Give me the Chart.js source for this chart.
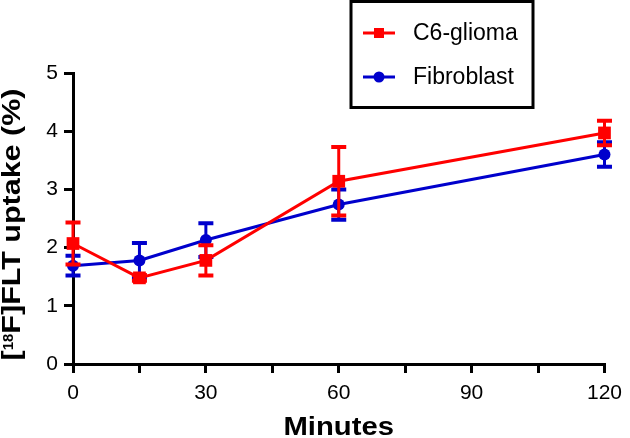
<!DOCTYPE html>
<html>
<head>
<meta charset="utf-8">
<script src="https://cdn.jsdelivr.net/npm/chart.js@4"></script>
<style>
  html, body { margin: 0; padding: 0; background: #fff; }
  #wrap { width: 630px; height: 438px; }
</style>
</head>
<body>
<div id="wrap"><canvas id="myChart" width="630" height="438"></canvas></div>
<script>
// values
const minutes = [0, 15, 30, 60, 120];
const gliomaMean = [2.07, 1.48, 1.78, 3.14, 3.97];
const gliomaErr = [0.36, 0.05, 0.26, 0.59, 0.21];
const fibroMean = [1.69, 1.78, 2.13, 2.74, 3.60];
const fibroErr = [0.17, 0.30, 0.29, 0.26, 0.21];
const xMinor = [0, 15, 30, 45, 60, 75, 90, 105, 120];
const xTicks = [0, 30, 60, 90, 120];
const yTicks = [0, 1, 2, 3, 4, 5];

const RED = '#ff0000';
const BLUE = '#0000cc';
const FONT = "'Liberation Sans', Arial, sans-serif";

function toPoints(means) {
    return minutes.map((m, i) => ({x: m, y: means[i]}));
}

// error bars, drawn just under each dataset's own line and markers
const errorBars = {
    id: 'errorBars',
    beforeDatasetDraw(chart, args) {
        const ds = chart.data.datasets[args.index];
        const errs = ds.errors;
        if (!errs) return;
        const ctx = chart.ctx;
        const xs = chart.scales.x, ys = chart.scales.y;
        ctx.save();
        ctx.strokeStyle = ds.borderColor;
        ds.data.forEach((p, i) => {
            const px = xs.getPixelForValue(p.x);
            const top = ys.getPixelForValue(p.y + errs[i]);
            const bot = ys.getPixelForValue(p.y - errs[i]);
            ctx.lineWidth = 3;
            ctx.beginPath();
            ctx.moveTo(px, top);
            ctx.lineTo(px, bot);
            ctx.stroke();
            ctx.lineWidth = 4;
            ctx.beginPath();
            ctx.moveTo(px - 7.5, top);
            ctx.lineTo(px + 7.5, top);
            ctx.moveTo(px - 7.5, bot);
            ctx.lineTo(px + 7.5, bot);
            ctx.stroke();
        });
        ctx.restore();
    }
};

// axis titles (the figure's bold face is wider than Arial, so stretch a bit)
const axisTitles = {
    id: 'axisTitles',
    afterDraw(chart) {
        const ctx = chart.ctx;
        const area = chart.chartArea;
        ctx.save();
        ctx.fillStyle = '#000';
        ctx.textBaseline = 'alphabetic';

        // x title
        ctx.font = 'bold 25px ' + FONT;
        ctx.textAlign = 'center';
        ctx.save();
        ctx.translate((area.left + area.right) / 2, 435);
        ctx.scale(1.17, 1);
        ctx.fillText('Minutes', 0, 0);
        ctx.restore();

        // y title with superscript 18
        const parts = [
            {t: '[', size: 25, sup: false},
            {t: '18', size: 15, sup: true},
            {t: 'F]FLT uptake (%)', size: 25, sup: false}
        ];
        const stretch = 1.22;
        let total = 0;
        parts.forEach(p => {
            ctx.font = 'bold ' + p.size + 'px ' + FONT;
            p.w = ctx.measureText(p.t).width * (p.sup ? 1 : stretch);
            total += p.w;
        });
        ctx.translate(20, 224.5);
        ctx.rotate(-Math.PI / 2);
        ctx.textAlign = 'left';
        let x = -total / 2;
        parts.forEach(p => {
            ctx.font = 'bold ' + p.size + 'px ' + FONT;
            ctx.save();
            ctx.translate(x, p.sup ? -7.5 : 0);
            if (!p.sup) ctx.scale(stretch, 1);
            ctx.fillText(p.t, 0, 0);
            ctx.restore();
            x += p.w;
        });
        ctx.restore();
    }
};

// boxed legend at the top
const boxLegend = {
    id: 'boxLegend',
    afterDraw(chart) {
        const ctx = chart.ctx;
        ctx.save();
        ctx.strokeStyle = '#000';
        ctx.lineWidth = 3;
        ctx.strokeRect(351, 1.5, 182, 106);
        const items = [
            {label: 'C6-glioma', color: RED, style: 'rect', y: 33},
            {label: 'Fibroblast', color: BLUE, style: 'circle', y: 77}
        ];
        items.forEach(it => {
            ctx.strokeStyle = it.color;
            ctx.fillStyle = it.color;
            ctx.lineWidth = 3;
            ctx.beginPath();
            ctx.moveTo(363, it.y);
            ctx.lineTo(395, it.y);
            ctx.stroke();
            if (it.style === 'rect') {
                ctx.fillRect(374, it.y - 5, 10, 10);
            } else {
                ctx.beginPath();
                ctx.arc(379, it.y, 5.5, 0, Math.PI * 2);
                ctx.fill();
            }
            ctx.fillStyle = '#000';
            ctx.font = '23px ' + FONT;
            ctx.textBaseline = 'middle';
            ctx.fillText(it.label, 413, it.y + 1);
        });
        ctx.restore();
    }
};

let ctx = document.getElementById('myChart');

let myChart = new Chart(ctx, {
    type: 'line',
    data: {
        datasets: [{
            label: 'C6-glioma',
            data: toPoints(gliomaMean),
            errors: gliomaErr,
            borderColor: RED,
            backgroundColor: RED,
            borderWidth: 3,
            pointStyle: 'rect',
            pointRadius: 9,
            pointBorderWidth: 0,
            clip: false
        }, {
            label: 'Fibroblast',
            data: toPoints(fibroMean),
            errors: fibroErr,
            borderColor: BLUE,
            backgroundColor: BLUE,
            borderWidth: 3,
            pointStyle: 'circle',
            pointRadius: 6,
            pointBorderWidth: 0,
            clip: false
        }]
    },
    options: {
        responsive: false,
        animation: false,
        layout: { padding: { top: 73, right: 18, left: 0, bottom: 0 } },
        plugins: {
            legend: { display: false },
            tooltip: { enabled: false }
        },
        scales: {
            x: {
                type: 'linear',
                min: 0,
                max: 120,
                afterFit(scale) { scale.height = 74; },
                afterBuildTicks(scale) {
                    scale.ticks = xMinor.map(v => ({value: v}));
                },
                ticks: {
                    autoSkip: false,
                    maxRotation: 0,
                    padding: 8,
                    color: '#000',
                    font: { family: FONT, size: 21 },
                    callback: v => xTicks.includes(v) ? String(v) : ''
                },
                grid: {
                    drawOnChartArea: false,
                    drawTicks: true,
                    tickLength: 9,
                    lineWidth: 3,
                    color: '#000'
                },
                border: { color: '#000', width: 3 }
            },
            y: {
                min: 0,
                max: 5,
                afterFit(scale) { scale.width = 73; },
                afterBuildTicks(scale) {
                    scale.ticks = yTicks.map(v => ({value: v}));
                },
                ticks: {
                    padding: 6,
                    color: '#000',
                    font: { family: FONT, size: 21 }
                },
                grid: {
                    drawOnChartArea: false,
                    drawTicks: true,
                    tickLength: 9,
                    lineWidth: 3,
                    color: '#000'
                },
                border: { color: '#000', width: 3 }
            }
        }
    },
    plugins: [errorBars, axisTitles, boxLegend]
});
</script>
</body>
</html>
